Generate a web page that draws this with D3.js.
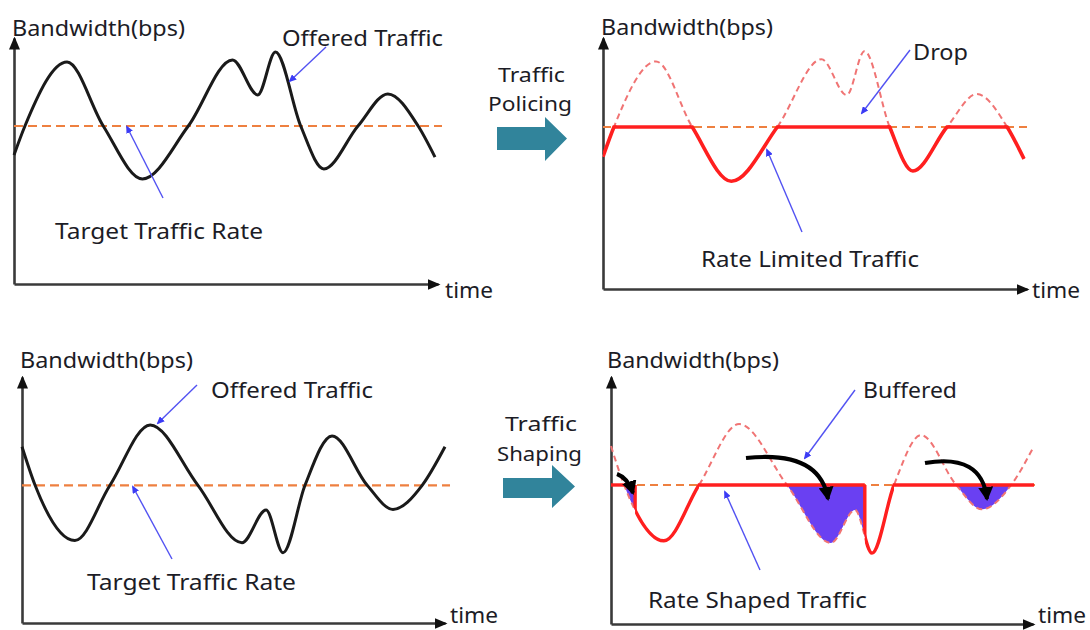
<!DOCTYPE html>
<html>
<head>
<meta charset="utf-8">
<script src="https://cdn.jsdelivr.net/npm/d3@7"></script>
<style>
  body { margin: 0; background: #fff; }
  svg text { font-family: "Noto Sans", sans-serif; font-size: 22px; fill: #1c1c26; }
  svg text.mid { font-size: 20px; }
</style>
</head>
<body>
<div id="chart"></div>
<script>
//*************************** Data ***********************************

// offered traffic, top row (policing) - time vs bandwidth
var policeTime = [0, 2.6, 12.6, 21.2, 30.5, 41.4, 51.9, 57.9, 62.1, 68.1, 73.6, 81.7, 88.8, 96.0, 100];
var policeBw   = [49, 60, 84.3, 60, 39.9, 60, 85.1, 71.8, 88.1, 60, 43.7, 60, 72.2, 60, 48.2];

// offered traffic, bottom row (shaping)
var shapeTime = [0, 3.1, 12.5, 20.8, 30.3, 41.6, 52.0, 57.7, 61.7, 66.9, 73.3, 81.6, 87.7, 94.6, 100];
var shapeBw   = [76.8, 60, 35.9, 60, 86.3, 60, 35.0, 49.2, 30.6, 60, 81.5, 60, 49.5, 60, 76.8];

var targetRate = 60;

// shaping: where the buffer drains, where output follows the offered traffic
var drainIntervals  = [[3.1, 5.7], [41.6, 60.0], [81.6, 94.6]];
var followIntervals = [[5.7, 20.8], [60.0, 66.9]];
var rateIntervals   = [[0, 5.7], [20.8, 60.0], [66.9, 100]];
var dropTimes       = [5.7, 60.0];

// text
var yTitle = 'Bandwidth(bps)';
var xTitle = 'time';
var offeredLabel = 'Offered Traffic';
var targetLabel = 'Target Traffic Rate';
var dropLabel = 'Drop';
var limitedLabel = 'Rate Limited Traffic';
var bufferedLabel = 'Buffered';
var shapedLabel = 'Rate Shaped Traffic';

//*************************** Setup ***********************************

var chart_width = 1090;
var chart_height = 630;

var svg = d3.select('#chart')
  .append('svg')
  .attr('width', chart_width)
  .attr('height', chart_height);

var defs = svg.append('defs');

function marker(id, color, len, wid) {
  defs.append('marker')
    .attr('id', id)
    .attr('markerUnits', 'userSpaceOnUse')
    .attr('viewBox', '0 ' + (-wid / 2) + ' ' + len + ' ' + wid)
    .attr('refX', len - 2)
    .attr('refY', 0)
    .attr('markerWidth', len)
    .attr('markerHeight', wid)
    .attr('orient', 'auto')
    .append('path')
    .attr('d', 'M0,' + (-wid / 2) + 'L' + len + ',0L0,' + (wid / 2) + 'Z')
    .attr('fill', color);
}
marker('axisHead', '#111', 13, 11);
marker('blueHead', '#3b3bf5', 8, 7);
marker('blackHead', '#000', 14, 15);

var RED = '#ff1f1f';
var PINK = '#f07474';
var ORANGE = '#ee8040';
var BLUE = '#5252f2';

// panel geometry (origin, axis tips, px per unit)
var panels = {
  p1: { ox: 14,  oy: 284, xTip: 438,  yTip: 38,  kx: 4.21, ky: 2.633 },
  p2: { ox: 603, oy: 289, xTip: 1027, yTip: 38,  kx: 4.21, ky: 2.7 },
  p3: { ox: 22,  oy: 623, xTip: 445,  yTip: 377, kx: 4.23, ky: 2.295 },
  p4: { ox: 611, oy: 624, xTip: 1033, yTip: 377, kx: 4.23, ky: 2.317 }
};

function scales(p) {
  p.x = d3.scaleLinear()
    .domain([0, (p.xTip - p.ox) / p.kx])
    .range([p.ox, p.xTip]);
  p.y = d3.scaleLinear()
    .domain([0, (p.oy - p.yTip) / p.ky])
    .range([p.oy, p.yTip]);
  p.line = d3.line()
    .x(function(d) { return p.x(d.t); })
    .y(function(d) { return p.y(d.v); })
    .curve(d3.curveMonotoneX);
}

function drawAxes(p) {
  var xa = svg.append('g')
    .attr('transform', 'translate(0,' + p.oy + ')')
    .call(d3.axisBottom(p.x).tickValues([]).tickSizeOuter(0));
  xa.select('.domain').attr('stroke', '#3a3a3a').attr('stroke-width', 2.6)
    .attr('marker-end', 'url(#axisHead)');
  var ya = svg.append('g')
    .attr('transform', 'translate(' + p.ox + ',0)')
    .call(d3.axisLeft(p.y).tickValues([]).tickSizeOuter(0));
  ya.select('.domain').attr('stroke', '#3a3a3a').attr('stroke-width', 2.6)
    .attr('marker-end', 'url(#axisHead)');
}

function label(txt, x, y, w, cls) {
  svg.append('text')
    .attr('class', cls || null)
    .attr('x', x)
    .attr('y', y)
    .attr('textLength', w)
    .attr('lengthAdjust', 'spacingAndGlyphs')
    .text(txt);
}

function pointer(x1, y1, x2, y2) {
  svg.append('line')
    .attr('x1', x1).attr('y1', y1)
    .attr('x2', x2).attr('y2', y2)
    .attr('stroke', BLUE)
    .attr('stroke-width', 1.4)
    .attr('marker-end', 'url(#blueHead)');
}

function rateLine(p, x1, x2, color, width, dash) {
  return svg.append('line')
    .attr('x1', x1).attr('x2', x2)
    .attr('y1', p.y(targetRate)).attr('y2', p.y(targetRate))
    .attr('stroke', color)
    .attr('stroke-width', width)
    .attr('stroke-dasharray', dash);
}

var policeData = d3.zip(policeTime, policeBw).map(function(d) { return { t: d[0], v: d[1] }; });
var shapeData = d3.zip(shapeTime, shapeBw).map(function(d) { return { t: d[0], v: d[1] }; });

Object.keys(panels).forEach(function(k) { scales(panels[k]); });

//*************************** Panel 1 - offered traffic ***********************************

var p1 = panels.p1;
drawAxes(p1);
rateLine(p1, p1.ox, p1.xTip + 4, ORANGE, 2.2, '9,5');
svg.append('path')
  .datum(policeData)
  .attr('d', p1.line)
  .attr('fill', 'none')
  .attr('stroke', '#1a1a1a')
  .attr('stroke-width', 3);

label(yTitle, 12, 36, 173);
label(offeredLabel, 282, 46, 161);
label(targetLabel, 55, 239, 208);
label(xTitle, 445, 298, 48);
pointer(326, 47, 290, 81);
pointer(163, 198, 127, 127);

//*************************** Panel 2 - policing ***********************************

var p2 = panels.p2;
drawAxes(p2);
rateLine(p2, p2.ox, p2.xTip, ORANGE, 2, '8,5');

defs.append('clipPath').attr('id', 'p2below')
  .append('rect')
  .attr('x', p2.ox).attr('y', p2.y(targetRate) - 1.8)
  .attr('width', p2.xTip - p2.ox + 10).attr('height', p2.oy - p2.y(targetRate));

defs.append('clipPath').attr('id', 'p2above')
  .append('path')
  .datum(policeData)
  .attr('d', d3.area()
    .x(function(d) { return p2.x(d.t); })
    .y0(function(d) { return p2.y(d.v); })
    .y1(p2.oy)
    .curve(d3.curveMonotoneX));

svg.append('path')
  .datum(policeData)
  .attr('d', p2.line)
  .attr('fill', 'none')
  .attr('stroke', PINK)
  .attr('stroke-width', 2)
  .attr('stroke-dasharray', '6,4');

svg.append('path')
  .datum(policeData)
  .attr('d', p2.line)
  .attr('fill', 'none')
  .attr('stroke', RED)
  .attr('stroke-width', 3.6)
  .attr('clip-path', 'url(#p2below)');

rateLine(p2, p2.x(0), p2.x(100), RED, 3.6, null)
  .attr('clip-path', 'url(#p2above)');

label(yTitle, 601, 35, 172);
label(dropLabel, 913, 60, 55);
label(limitedLabel, 701, 267, 218);
label(xTitle, 1032, 298, 48);
pointer(910, 50, 862, 113);
pointer(802, 232, 767, 150);

//*************************** Panel 3 - offered traffic ***********************************

var p3 = panels.p3;
drawAxes(p3);
rateLine(p3, p3.ox, p3.xTip + 5, ORANGE, 2.2, '9,5');
svg.append('path')
  .datum(shapeData)
  .attr('d', p3.line)
  .attr('fill', 'none')
  .attr('stroke', '#1a1a1a')
  .attr('stroke-width', 3);

label(yTitle, 20, 368, 173);
label(offeredLabel, 211, 398, 162);
label(targetLabel, 87, 590, 209);
label(xTitle, 450, 623, 48);
pointer(197, 385, 158, 423);
pointer(172, 559, 133, 487);

//*************************** Panel 4 - shaping ***********************************

var p4 = panels.p4;
drawAxes(p4);
rateLine(p4, p4.ox, p4.xTip + 5, ORANGE, 2, '8,5');

var drainClip = defs.append('clipPath').attr('id', 'p4drain');
drainClip.selectAll('rect')
  .data(drainIntervals)
  .enter()
  .append('rect')
  .attr('x', function(d) { return p4.x(d[0]); })
  .attr('width', function(d) { return p4.x(d[1]) - p4.x(d[0]); })
  .attr('y', p4.y(targetRate))
  .attr('height', p4.oy - p4.y(targetRate));

var followClip = defs.append('clipPath').attr('id', 'p4follow');
followClip.selectAll('rect')
  .data(followIntervals)
  .enter()
  .append('rect')
  .attr('x', function(d) { return p4.x(d[0]); })
  .attr('width', function(d) { return p4.x(d[1]) - p4.x(d[0]); })
  .attr('y', p4.y(targetRate) - 1.8)
  .attr('height', p4.oy - p4.y(targetRate));

defs.append('clipPath').attr('id', 'p4gap')
  .append('path')
  .datum(shapeData)
  .attr('d', d3.area()
    .x(function(d) { return p4.x(d.t); })
    .y0(p4.y(targetRate))
    .y1(function(d) { return p4.y(d.v); })
    .curve(d3.curveMonotoneX));

// buffered traffic sent out
svg.append('path')
  .datum(shapeData)
  .attr('d', d3.area()
    .x(function(d) { return p4.x(d.t); })
    .y0(p4.y(targetRate))
    .y1(function(d) { return p4.y(d.v); })
    .curve(d3.curveMonotoneX))
  .attr('fill', '#6a40f2')
  .attr('clip-path', 'url(#p4drain)');

svg.append('path')
  .datum(shapeData)
  .attr('d', p4.line)
  .attr('fill', 'none')
  .attr('stroke', PINK)
  .attr('stroke-width', 2)
  .attr('stroke-dasharray', '6,4');

svg.append('path')
  .datum(shapeData)
  .attr('d', p4.line)
  .attr('fill', 'none')
  .attr('stroke', RED)
  .attr('stroke-width', 3.4)
  .attr('clip-path', 'url(#p4follow)');

rateIntervals.forEach(function(d) {
  rateLine(p4, p4.x(d[0]), p4.x(d[1]), RED, 3.4, null);
});

svg.selectAll('.drop')
  .data(dropTimes)
  .enter()
  .append('line')
  .attr('class', 'drop')
  .attr('x1', function(d) { return p4.x(d); })
  .attr('x2', function(d) { return p4.x(d); })
  .attr('y1', p4.y(targetRate))
  .attr('y2', p4.oy)
  .attr('stroke', RED)
  .attr('stroke-width', 3.4)
  .attr('clip-path', 'url(#p4gap)');

// curved black arrows (buffer into gaps)
[
  'M617,474 Q628,478 633,493',
  'M746,458 Q820,450 828,499',
  'M925,463 Q982,453 987,499'
].forEach(function(d) {
  svg.append('path')
    .attr('d', d)
    .attr('fill', 'none')
    .attr('stroke', '#000')
    .attr('stroke-width', 4)
    .attr('marker-end', 'url(#blackHead)');
});

label(yTitle, 607, 368, 172);
label(bufferedLabel, 863, 398, 94);
label(shapedLabel, 648, 608, 219);
label(xTitle, 1038, 623, 48);
pointer(855, 390, 805, 458);
pointer(760, 570, 725, 492);

//*************************** Middle arrows ***********************************

var TEAL = '#31849b';
svg.append('path')
  .attr('d', 'M497,127H545V117L567,138.5L545,161V150H497Z')
  .attr('fill', TEAL);
svg.append('path')
  .attr('d', 'M503,478H552V465L575,486.5L552,508V498H503Z')
  .attr('fill', TEAL);

label('Traffic', 498, 82, 67, 'mid');
label('Policing', 488, 111, 84, 'mid');
label('Traffic', 505, 431, 72, 'mid');
label('Shaping', 497, 461, 85, 'mid');
</script>
</body>
</html>
